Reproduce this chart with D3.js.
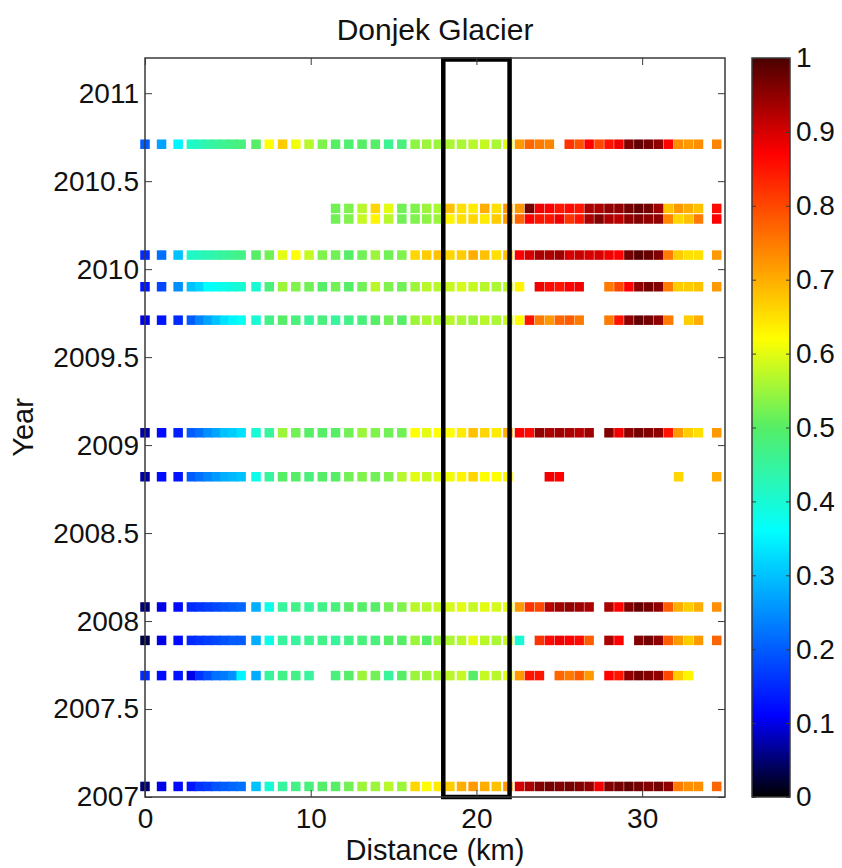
<!DOCTYPE html>
<html>
<head>
<meta charset="utf-8">
<script src="https://cdn.jsdelivr.net/npm/d3@7"></script>
<style>
  body { margin: 0; background: #fff; }
  svg { display: block; font-family: "Liberation Sans", Arial, Helvetica, sans-serif; }
</style>
</head>
<body>
<script>
// Sample positions along the flowline (km)
const distanceKm = [0, 1.0, 2.0, 2.8, 3.3, 3.8, 4.3, 4.8, 5.3, 5.8,
  6.7, 7.5, 8.3, 9.1, 9.9, 10.7, 11.5, 12.3, 13.1, 13.9,
  14.7, 15.5, 16.3, 17.0, 17.7, 18.4, 19.1, 19.8, 20.5, 21.2,
  21.9, 22.6, 23.2, 23.8, 24.4, 25.0, 25.6, 26.2, 26.8, 27.4,
  28.0, 28.6, 29.2, 29.8, 30.4, 31.0, 31.6, 32.2, 32.8, 33.4, 34.5];

// Acquisition dates (decimal year), one per row of squares
const rowYears = [2010.71, 2010.345, 2010.285, 2010.08, 2009.90, 2009.71,
  2009.07, 2008.82, 2008.08, 2007.89, 2007.69, 2007.06];

// Normalised values per row (null = no data)
const row2010_71 = [0.2, 0.27, 0.35, 0.41, 0.42, 0.44, 0.45, 0.46, 0.47, 0.48,
  0.5, 0.62, 0.67, 0.61, 0.57, 0.53, 0.5, 0.49, 0.5, 0.5,
  0.46, 0.48, 0.54, 0.55, 0.55, 0.56, 0.56, 0.57, 0.58, 0.56,
  0.6, 0.72, 0.77, 0.75, 0.74, null, 0.82, 0.79, 0.87, 0.8,
  0.85, 0.88, 0.96, 0.98, 0.97, 0.95, 0.87, 0.73, 0.72, 0.73, 0.74];
const row2010_35 = [null, null, null, null, null, null, null, null, null, null,
  null, null, null, null, null, null, 0.52, 0.53, 0.57, 0.66,
  0.6, 0.52, 0.53, 0.55, 0.56, 0.68, 0.65, 0.64, 0.7, 0.65,
  0.72, 0.72, 0.97, 0.88, 0.87, 0.85, 0.86, 0.85, 0.93, 0.93,
  0.95, 0.95, 0.97, 0.98, 0.97, 0.94, 0.68, 0.72, 0.7, 0.68, 0.86];
const row2010_29 = [null, null, null, null, null, null, null, null, null, null,
  null, null, null, null, null, null, 0.52, 0.53, 0.58, 0.63,
  0.57, 0.52, 0.53, 0.54, 0.55, 0.63, 0.65, 0.66, 0.64, 0.67,
  0.72, 0.77, 0.87, 0.85, 0.85, 0.88, 0.82, 0.85, 0.93, 0.96,
  0.93, 0.92, 0.95, 0.96, 0.95, 0.95, 0.74, 0.66, 0.68, 0.75, 0.87];
const row2010_08 = [0.15, 0.22, 0.3, 0.41, 0.42, 0.43, 0.44, 0.45, 0.46, 0.47,
  0.5, 0.52, 0.6, 0.62, 0.58, 0.53, 0.52, 0.5, 0.52, 0.55,
  0.52, 0.53, 0.66, 0.67, 0.68, 0.66, 0.67, 0.7, 0.68, 0.65,
  0.68, 0.87, 0.9, 0.93, 0.93, 0.94, 0.9, 0.91, 0.9, 0.9,
  0.88, 0.87, 0.97, 0.99, 0.98, 0.96, 0.75, 0.67, 0.65, 0.65, 0.72];
const row2009_90 = [0.13, 0.18, 0.25, 0.3, 0.32, 0.36, 0.37, 0.38, 0.39, 0.4,
  0.4, 0.48, 0.55, 0.53, 0.52, 0.5, 0.52, 0.5, 0.52, 0.57,
  0.53, 0.52, 0.55, 0.57, 0.57, 0.58, 0.59, 0.58, 0.57, 0.56,
  0.57, 0.63, null, 0.88, 0.86, 0.85, 0.87, 0.88, null, null,
  0.75, 0.8, 0.87, 0.95, 0.97, 0.96, 0.75, 0.67, 0.67, 0.68, 0.72];
const row2009_71 = [0.1, 0.13, 0.15, 0.2, 0.24, 0.27, 0.3, 0.33, 0.35, 0.37,
  0.4, 0.47, 0.5, 0.48, 0.45, 0.48, 0.45, 0.47, 0.48, 0.5,
  0.52, 0.5, 0.55, 0.56, 0.56, 0.57, 0.56, 0.55, 0.57, 0.56,
  0.58, 0.62, 0.85, 0.75, 0.72, 0.77, 0.78, 0.75, null, null,
  0.75, 0.85, 0.95, 0.98, 0.97, 0.95, 0.75, null, 0.67, 0.7, null];
const row2009_07 = [0.07, 0.12, 0.14, 0.2, 0.22, 0.25, 0.27, 0.3, 0.31, 0.33,
  0.4, 0.45, 0.55, 0.52, 0.5, 0.5, 0.5, 0.52, 0.55, 0.53,
  0.52, 0.52, 0.62, 0.6, 0.62, 0.62, 0.64, 0.68, 0.66, 0.64,
  0.7, 0.87, 0.86, 0.95, 0.93, 0.94, 0.93, 0.92, 0.94, null,
  0.96, 0.88, 0.95, 0.97, 0.96, 0.95, 0.85, 0.72, 0.67, 0.65, 0.72];
const row2008_82 = [0.07, 0.12, 0.13, 0.2, 0.22, 0.24, 0.26, 0.28, 0.29, 0.3,
  0.38, 0.45, 0.5, 0.5, 0.48, 0.5, 0.5, 0.52, 0.53, 0.52,
  0.53, 0.57, 0.6, 0.58, 0.6, 0.61, 0.63, 0.66, 0.62, 0.62,
  0.63, null, null, null, 0.88, 0.87, null, null, null, null,
  null, null, null, null, null, null, null, 0.66, null, null, 0.7];
const row2008_08 = [0.05, 0.1, 0.12, 0.15, 0.16, 0.17, 0.18, 0.19, 0.2, 0.21,
  0.28, 0.38, 0.45, 0.47, 0.45, 0.47, 0.48, 0.5, 0.5, 0.5,
  0.52, 0.53, 0.57, 0.57, 0.58, 0.59, 0.6, 0.58, 0.6, 0.59,
  0.6, 0.72, 0.82, 0.8, 0.92, 0.94, 0.95, 0.94, 0.93, null,
  0.93, 0.87, 0.96, 0.98, 0.97, 0.95, 0.78, 0.7, 0.67, 0.7, 0.73];
const row2007_89 = [0.03, 0.1, 0.12, 0.15, 0.16, 0.17, 0.18, 0.19, 0.2, 0.2,
  0.28, 0.38, 0.45, 0.45, 0.46, 0.47, 0.45, 0.47, 0.48, 0.48,
  0.5, 0.5, 0.55, 0.5, 0.55, 0.56, 0.57, 0.6, 0.57, 0.56,
  0.58, 0.4, null, 0.82, 0.86, 0.88, 0.87, 0.86, 0.78, null,
  0.93, 0.87, null, 0.96, 0.97, 0.95, 0.78, 0.72, 0.67, 0.72, 0.77];
const row2007_69 = [0.15, 0.12, 0.13, 0.1, 0.16, 0.19, 0.22, 0.23, 0.25, 0.35,
  0.28, 0.45, 0.47, 0.47, 0.45, null, 0.48, 0.5, 0.55, 0.52,
  0.45, 0.5, 0.55, 0.55, 0.56, 0.57, 0.58, 0.5, 0.58, 0.57,
  0.6, 0.72, 0.85, 0.85, null, 0.77, 0.75, 0.78, 0.72, null,
  0.87, 0.85, 0.95, 0.97, 0.96, 0.95, 0.8, 0.67, 0.63, null, null];
const row2007_06 = [0.05, 0.1, 0.12, 0.13, 0.16, 0.17, 0.19, 0.2, 0.21, 0.22,
  0.3, 0.4, 0.45, 0.47, 0.48, 0.5, 0.5, 0.52, 0.55, 0.55,
  0.57, 0.55, 0.66, 0.62, 0.64, 0.67, 0.7, 0.72, 0.7, 0.68,
  0.72, 0.9, 0.93, 0.96, 0.97, 0.96, 0.97, 0.96, 0.95, 0.88,
  0.96, 0.97, 0.98, 0.97, 0.96, 0.97, 0.95, 0.75, 0.73, 0.73, 0.77];

const rowValues = [row2010_71, row2010_35, row2010_29, row2010_08, row2009_90, row2009_71,
  row2009_07, row2008_82, row2008_08, row2007_89, row2007_69, row2007_06];

// Axis ticks and the highlighted distance window
const yearTicks = [2007, 2007.5, 2008, 2008.5, 2009, 2009.5, 2010, 2010.5, 2011];
const distanceTicks = [0, 10, 20, 30];
const colorTicks = [0, 0.1, 0.2, 0.3, 0.4, 0.5, 0.6, 0.7, 0.8, 0.9, 1];
const boxKm = [18, 22];

// Jet-like colormap running from black to dark red
const cmapStops = [0, 0.11, 0.36, 0.5, 0.62, 0.87, 1];
const cmapColors = ['#000000', '#0000ff', '#00ffff', '#55ee66', '#ffff00', '#ff0000', '#4a0000'];

class GlacierChart {

    constructor() {
        this.svg = null;
        this.plot = { left: 145, top: 58, right: 725, bottom: 797 };
        this.bar = { left: 752, right: 790 };
        this.cell = 9.5;
        this.axisColor = '#3a3a3a';
    }

    initCanvas(width, height) {
        this.svg = d3.select('body').append('svg')
            .attr('width', width)
            .attr('height', height);

        this.x = d3.scaleLinear().domain([0, 35]).range([this.plot.left, this.plot.right]);
        this.y = d3.scaleLinear().domain([2007, 2011.2]).range([this.plot.bottom, this.plot.top]);
        this.c = d3.scaleLinear().domain([0, 1]).range([this.plot.bottom, this.plot.top]);
        this.color = d3.scaleLinear().domain(cmapStops).range(cmapColors).interpolate(d3.interpolateRgb);
    }

    // One filled square per sample, coloured through the colormap
    drawRows() {
        const s = this.cell;
        const points = [];
        rowYears.forEach((yr, r) => {
            rowValues[r].forEach((v, i) => {
                if (v !== null) points.push({ d: distanceKm[i], yr: yr, v: v });
            });
        });

        this.svg.append('g')
            .selectAll('rect')
            .data(points)
            .join('rect')
            .attr('x', p => this.x(p.d) - s / 2)
            .attr('y', p => this.y(p.yr) - s / 2)
            .attr('width', s)
            .attr('height', s)
            .attr('fill', p => this.color(p.v));
    }

    // Black window marking 18-22 km
    drawWindow() {
        this.svg.append('rect')
            .attr('x', this.x(boxKm[0]))
            .attr('y', this.y(2011.2) + 1.5)
            .attr('width', this.x(boxKm[1]) - this.x(boxKm[0]))
            .attr('height', this.y(2007) - this.y(2011.2) - 1.5)
            .attr('fill', 'none')
            .attr('stroke', '#000')
            .attr('stroke-width', 4.5);
    }

    styleAxis(g, size) {
        g.select('.domain').remove();
        g.selectAll('.tick line').attr('stroke', this.axisColor).attr('stroke-width', 1);
        g.selectAll('.tick text')
            .attr('fill', '#111')
            .style('font-size', size + 'px');
    }

    drawAxes() {
        const p = this.plot;
        const fmt = d => String(d);

        this.svg.append('g')
            .attr('transform', `translate(0,${p.bottom})`)
            .call(d3.axisBottom(this.x).tickValues(distanceTicks).tickFormat(fmt).tickSize(-7).tickPadding(11))
            .call(g => this.styleAxis(g, 28));
        this.svg.append('g')
            .attr('transform', `translate(0,${p.top})`)
            .call(d3.axisTop(this.x).tickValues(distanceTicks).tickFormat('').tickSize(-7))
            .call(g => this.styleAxis(g, 28));
        this.svg.append('g')
            .attr('transform', `translate(${p.left},0)`)
            .call(d3.axisLeft(this.y).tickValues(yearTicks).tickFormat(fmt).tickSize(-7).tickPadding(6))
            .call(g => this.styleAxis(g, 28));
        this.svg.append('g')
            .attr('transform', `translate(${p.right},0)`)
            .call(d3.axisRight(this.y).tickValues(yearTicks).tickFormat('').tickSize(-7))
            .call(g => this.styleAxis(g, 28));

        // Box round the plot
        this.svg.append('rect')
            .attr('x', p.left).attr('y', p.top)
            .attr('width', p.right - p.left).attr('height', p.bottom - p.top)
            .attr('fill', 'none')
            .attr('stroke', this.axisColor)
            .attr('stroke-width', 1.5);
    }

    drawColorbar() {
        const b = this.bar;
        const grad = this.svg.append('defs').append('linearGradient')
            .attr('id', 'jet')
            .attr('x1', 0).attr('y1', 1).attr('x2', 0).attr('y2', 0);
        grad.selectAll('stop')
            .data(cmapStops)
            .join('stop')
            .attr('offset', d => d)
            .attr('stop-color', (d, i) => cmapColors[i]);

        this.svg.append('rect')
            .attr('x', b.left).attr('y', this.c(1))
            .attr('width', b.right - b.left).attr('height', this.c(0) - this.c(1))
            .attr('fill', 'url(#jet)')
            .attr('stroke', this.axisColor)
            .attr('stroke-width', 1.5);

        this.svg.append('g')
            .attr('transform', `translate(${b.right},0)`)
            .call(d3.axisRight(this.c).tickValues(colorTicks).tickFormat(d => String(d)).tickSize(-4).tickPadding(6))
            .call(g => this.styleAxis(g, 28));
        this.svg.append('g')
            .attr('transform', `translate(${b.left},0)`)
            .call(d3.axisLeft(this.c).tickValues(colorTicks).tickFormat('').tickSize(-4))
            .call(g => this.styleAxis(g, 28));
    }

    drawLabels() {
        const p = this.plot;
        this.svg.append('text')
            .attr('x', (p.left + p.right) / 2).attr('y', 40)
            .attr('text-anchor', 'middle')
            .style('font-size', '30px')
            .attr('fill', '#111')
            .text('Donjek Glacier');
        this.svg.append('text')
            .attr('x', (p.left + p.right) / 2).attr('y', 860)
            .attr('text-anchor', 'middle')
            .style('font-size', '29px')
            .attr('fill', '#111')
            .text('Distance (km)');
        this.svg.append('text')
            .attr('transform', `translate(33,${(p.top + p.bottom) / 2}) rotate(-90)`)
            .attr('text-anchor', 'middle')
            .style('font-size', '29px')
            .attr('fill', '#111')
            .text('Year');
    }
}

const chart = new GlacierChart();
chart.initCanvas(842, 868);
chart.drawRows();
chart.drawWindow();
chart.drawAxes();
chart.drawColorbar();
chart.drawLabels();
</script>
</body>
</html>
